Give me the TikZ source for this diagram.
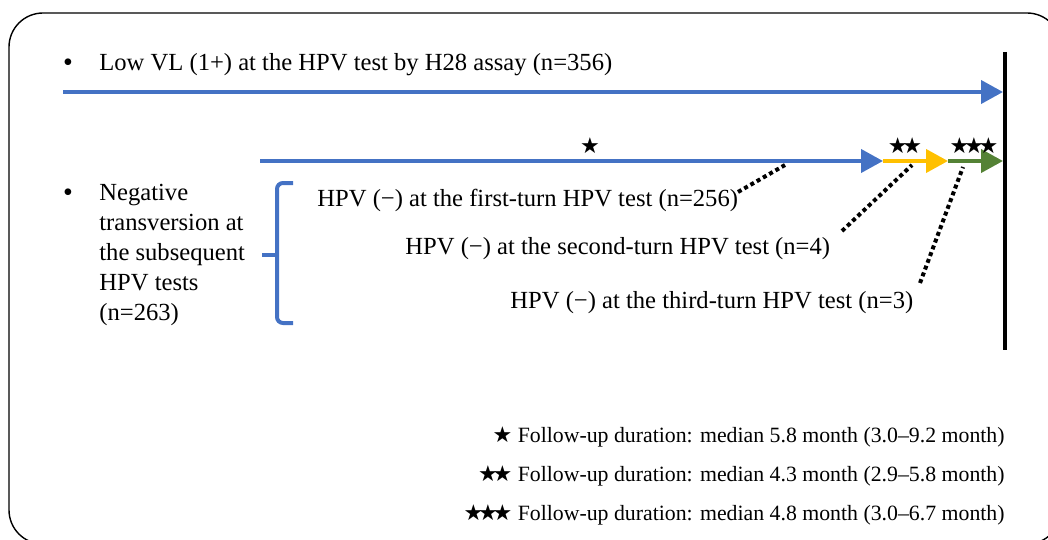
\documentclass[tikz,border=0pt]{standalone}
\usepackage{fontspec}
\setmainfont{Liberation Serif}
\newfontfamily\symfont{DejaVu Sans}
\usepackage{xcolor}
\usetikzlibrary{positioning,arrows.meta}
\definecolor{hpvblue}{HTML}{4472C4}
\definecolor{hpvyellow}{HTML}{FFC000}
\definecolor{hpvgreen}{HTML}{548235}
\newcommand{\starmark}[1]{{\symfont\fontsize{11}{11}\selectfont
  \foreach \s in {1,...,#1}{★\kern-2.6pt}\kern2.6pt}}

\begin{document}
\begin{tikzpicture}[x=0.5pt,y=-0.5pt,
        every node/.style={font=\fontsize{12.3}{15}\selectfont,inner sep=0pt},
        legtext/.style={anchor=east,font=\fontsize{10.9}{13}\selectfont},
        tline/.style={line width=2pt,-{Triangle[length=11pt,width=11.5pt]}},
        dots/.style={line width=2pt,dash pattern=on 2pt off 1.6pt},
        brace/.style={draw=hpvblue,line width=2pt,rounded corners=3pt}]
        \useasboundingbox (0,0) rectangle (1048,540);
        \draw[line width=0.7pt,rounded corners=17pt] (9,13) rectangle (1061,544);
        % first group
        \node (bul1) at (68,65) {\fontsize{14}{14}\selectfont •};
        \node[anchor=west] (lowvl) at (99,65)
          {Low VL (1+) at the HPV test by H28 assay (n=356)};
        \coordinate (s0) at (63,92);
        \coordinate (e0) at (1003,92);
        \draw[tline,hpvblue] (s0) -- (e0);
        % end line
        \coordinate (endtop) at (1005,52);
        \coordinate (endbot) at (1005,350);
        \draw[line width=2pt] (endtop) -- (endbot);
        % timeline of the subsequent tests
        \coordinate (t0) at (260,161);
        \coordinate (t1) at (883,161);
        \coordinate (t2) at (948,161);
        \coordinate (t3) at (1003,161);
        \draw[tline,hpvblue] (t0) -- (t1);
        \draw[tline,hpvyellow] (t1) -- (t2);
        \draw[tline,hpvgreen] (t2) -- (t3);
        \node (st1) at (590,146) {\starmark{1}};
        \node (st2) at (905,146) {\starmark{2}};
        \node (st3) at (974,146) {\starmark{3}};
        % second group
        \node (bul2) at (68,195) {\fontsize{14}{14}\selectfont •};
        \node[anchor=north west,align=left] (neg) at (99,184)
          {Negative\\transversion at\\the subsequent\\HPV tests\\(n=263)};
        \draw[brace] (293,183) -- (277,183) -- (277,323) -- (293,323);
        \draw[brace] (277,255) -- (262,255);
        \node[anchor=west] (first) at (317,200)
          {HPV (−) at the first-turn HPV test (n=256)};
        \node[anchor=west] (second) at (405,249)
          {HPV (−) at the second-turn HPV test (n=4)};
        \node[anchor=west] (third) at (510,303)
          {HPV (−) at the third-turn HPV test (n=3)};
        \coordinate (d1a) at (738,192);
        \coordinate (d1b) at (785,165);
        \coordinate (d2a) at (842,231);
        \coordinate (d2b) at (912,165);
        \coordinate (d3a) at (920,283);
        \coordinate (d3b) at (963,167);
        \draw[dots] (d1a) -- (d1b);
        \draw[dots] (d2a) -- (d2b);
        \draw[dots] (d3a) -- (d3b);
        % legend
        \node[legtext] (leg1) at (1005,437)
          {\starmark{1} Follow-up duration: median 5.8 month (3.0–9.2 month)};
        \node[legtext] (leg2) at (1005,476)
          {\starmark{2} Follow-up duration: median 4.3 month (2.9–5.8 month)};
        \node[legtext] (leg3) at (1005,515)
          {\starmark{3} Follow-up duration: median 4.8 month (3.0–6.7 month)};
      \end{tikzpicture}
\end{document}
